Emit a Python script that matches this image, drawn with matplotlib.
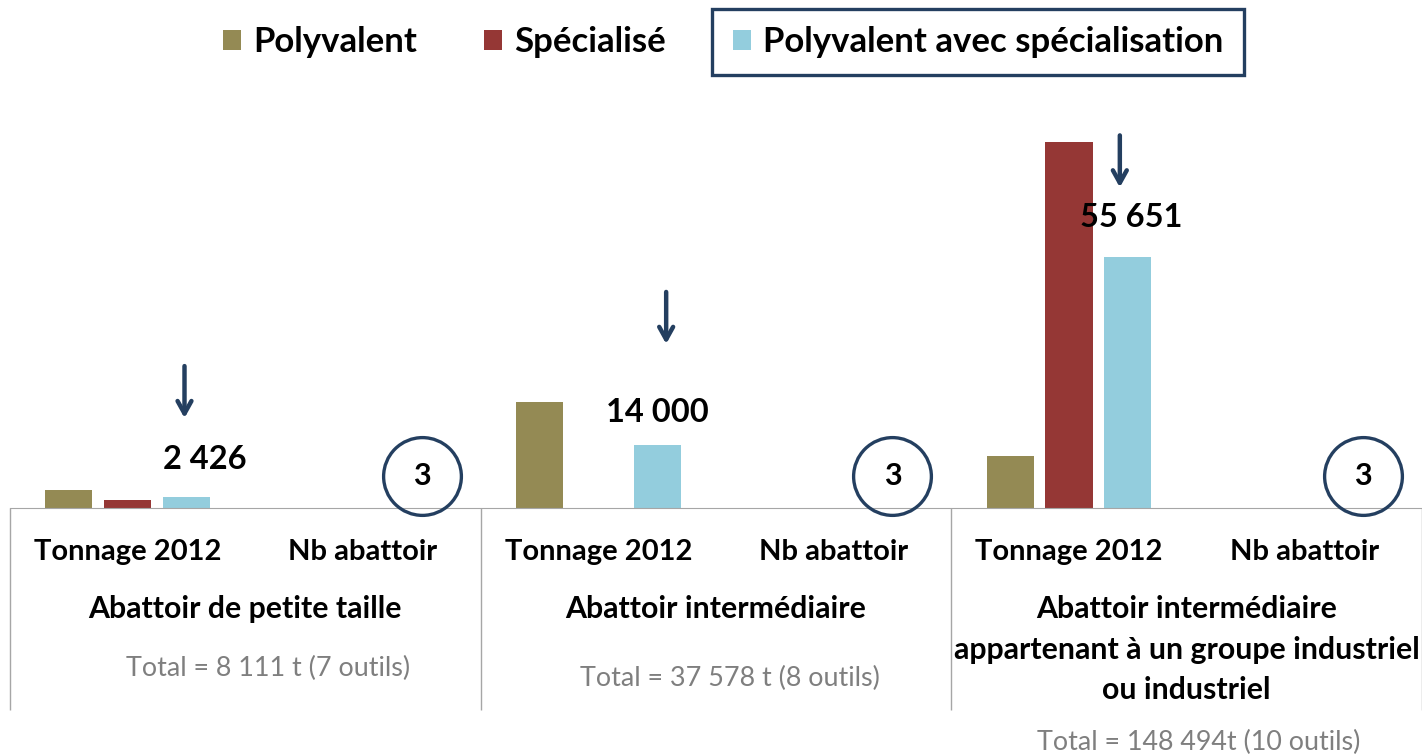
import matplotlib.pyplot as plt
from matplotlib.patches import Rectangle
from matplotlib.transforms import offset_copy

plt.rcParams['font.family'] = ['Lato', 'DejaVu Sans']

# data
groups = ['Abattoir de petite taille',
          'Abattoir intermédiaire',
          'Abattoir intermédiaire\nappartenant à un groupe industriel\nou industriel']
totals = ['Total = 8 111 t (7 outils)',
          'Total = 37 578 t (8 outils)',
          'Total = 148 494t (10 outils)']
subcats = ['Tonnage 2012', 'Nb abattoir']
series = ['Polyvalent', 'Spécialisé', 'Polyvalent avec spécialisation']
colors = ['#948A54', '#953735', '#93CDDD']

tonnage_poly = [3900, 23578, 11600]
tonnage_spec = [1785, 0, 81243]
tonnage_pvs = [2426, 14000, 55651]
nb_pvs = [3, 3, 3]
labels_pvs = ['2 426', '14 000', '55 651']

navy = '#243F60'
grey_line = '#A6A6A6'

fig = plt.figure(figsize=(14.22, 7.55), dpi=100)
ax = fig.add_axes([10 / 1422, 1 - 508 / 755, 1412 / 1422, 408 / 755])
ax.set_xlim(0, 6)
ax.set_ylim(0, 90600)

width = 0.2
step = 0.25
tonnage = [tonnage_poly, tonnage_spec, tonnage_pvs]
for g in range(3):
    xt = 2 * g + 0.5
    for s in range(3):
        ax.bar(xt + (s - 1) * step, tonnage[s][g], width, color=colors[s],
               label=series[s] if g == 0 else None)
    # Nb abattoir slot (value too small to show as a bar)
    xn = 2 * g + 1.5
    ax.bar(xn + step, nb_pvs[g], width, color=colors[2])

# value labels and arrows over the light blue bars
lab_dx = [18, 0, 3]
lab_dy = [38, 32, 40]
arr_dx = [-2, 9, -8]
arr_tip = [79, 101, 70]
for g in range(3):
    xc = 2 * g + 0.5 + step
    yv = tonnage_pvs[g]
    ax.annotate(labels_pvs[g], (xc, yv), xytext=(lab_dx[g], lab_dy[g]),
                textcoords='offset pixels', ha='center', va='center',
                fontsize=23.5, fontweight='bold', color='black')
    tip = offset_copy(ax.transData, fig, x=arr_dx[g], y=arr_tip[g], units='dots')
    tail = offset_copy(ax.transData, fig, x=arr_dx[g], y=arr_tip[g] + 52, units='dots')
    ax.annotate('', xy=(xc, yv), xycoords=tip, xytext=(xc, yv), textcoords=tail,
                arrowprops=dict(arrowstyle='->,head_length=0.9,head_width=0.5', color=navy, lw=3.2,
                                shrinkA=0, shrinkB=0))

# circled "Nb abattoir" values
circ_tr = offset_copy(ax.transData, fig, x=0, y=32, units='dots')
for g in range(3):
    xn = 2 * g + 1.5 + step
    ax.plot([xn], [0], marker='o', markersize=56, mfc='none', mec=navy, mew=2.4,
            transform=circ_tr, clip_on=False, zorder=5)
    ax.text(xn, 0, str(nb_pvs[g]), transform=circ_tr, ha='center', va='center',
            fontsize=22, fontweight='bold', zorder=6)

# axes styling
for sp in ['top', 'right', 'left']:
    ax.spines[sp].set_visible(False)
ax.spines['bottom'].set_color(grey_line)
ax.set_yticks([])
ax.set_xticks([])

xtr = ax.get_xaxis_transform()
ax.vlines([0, 2, 4, 6], -202 / 408, 0, transform=xtr, colors=grey_line, lw=1, clip_on=False)

sub_tr = offset_copy(xtr, fig, x=0, y=-52, units='dots')
for g in range(3):
    for k, name in enumerate(subcats):
        ax.text(2 * g + 0.5 + k, 0, name, transform=sub_tr, ha='center', va='baseline',
                fontsize=21, fontweight='bold')

grp_tr = offset_copy(xtr, fig, x=0, y=-87, units='dots')
for g in range(3):
    ax.text(2 * g + 1, 0, groups[g], transform=grp_tr, ha='center', va='top',
            fontsize=21.8, fontweight='bold', linespacing=1.55, multialignment='center')

tot_dx = [23, 14, 12]
tot_dy = [-168, -178, -242]
for g in range(3):
    t = offset_copy(xtr, fig, x=tot_dx[g], y=tot_dy[g], units='dots')
    ax.text(2 * g + 1, 0, totals[g], transform=t, ha='center', va='baseline',
            fontsize=19.4, color='#7F7F7F')

# legend
leg = fig.legend(loc='center', bbox_to_anchor=(723.5 / 1422, 1 - 42 / 755), ncol=3,
                 frameon=False, prop={'size': 25, 'weight': 'bold'},
                 handlelength=0.52, handleheight=0.52, handletextpad=0.35,
                 columnspacing=1.93)
fig.patches.append(Rectangle((712 / 1422, 1 - 75 / 755), 532 / 1422, 66 / 755,
                             transform=fig.transFigure, fill=False, ec=navy, lw=2.4))

fig.savefig('out.png', dpi=100)
